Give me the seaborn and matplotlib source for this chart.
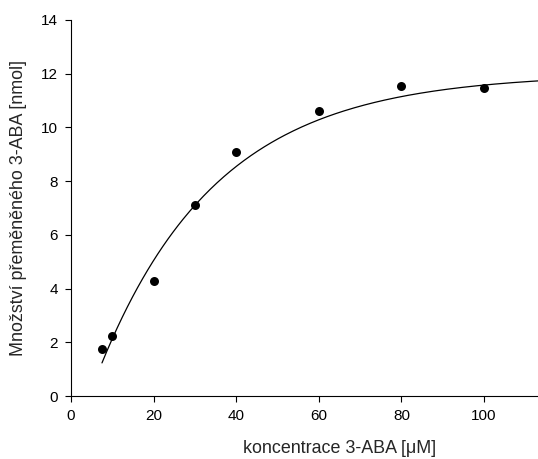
import numpy as np
import pandas as pd
import matplotlib
matplotlib.use("Agg")
import matplotlib.pyplot as plt
import seaborn as sns

conc = [7.5, 10, 20, 30, 40, 60, 80, 100]
amount = [1.75, 2.25, 4.3, 7.1, 9.1, 10.6, 11.55, 11.45]
x_ticks = [0, 20, 40, 60, 80, 100]
y_ticks = [0, 2, 4, 6, 8, 10, 12, 14]

# fitted regression curve: y = y0 + a*(1 - exp(-b*x))
curve_y0 = -2.0
curve_a = 14.0
curve_b = 0.035
curve_x_end = 130

df = pd.DataFrame({"conc": conc, "amount": amount})
xf = np.linspace(min(conc), curve_x_end, 300)
fit = pd.DataFrame({"conc": xf,
                    "amount": curve_y0 + curve_a * (1 - np.exp(-curve_b * xf))})

sns.set_style("ticks")
plt.rcParams["font.family"] = ["Liberation Sans", "DejaVu Sans"]

fig = plt.figure(figsize=(5.38, 4.59), dpi=100)
# the original plot area extends past the right edge of the image (cropped)
ax = fig.add_axes([71 / 538, 63 / 459, 537 / 538, 376 / 459])
sns.lineplot(data=fit, x="conc", y="amount", ax=ax, color="black", linewidth=0.9)
sns.scatterplot(data=df, x="conc", y="amount", ax=ax, color="black", s=42,
                edgecolor="black", linewidth=0, zorder=3)
ax.set_xlim(0, 130)
ax.set_ylim(0, 14)
ax.set_xticks(x_ticks)
ax.set_yticks(y_ticks)
ax.tick_params(direction="out", length=4, width=0.8, labelsize=11, pad=5.5,
               colors="black")
for s in ["top", "right"]:
    ax.spines[s].set_visible(False)
for s in ["left", "bottom"]:
    ax.spines[s].set_linewidth(0.8)
    ax.spines[s].set_color("black")
ax.set_xlabel("koncentrace 3-ABA [μM]", fontsize=12.9, labelpad=12)
ax.set_ylabel("Množství přeměněného 3-ABA [nmol]", fontsize=12.9, labelpad=10)
fig.savefig("out.png", dpi=100)
